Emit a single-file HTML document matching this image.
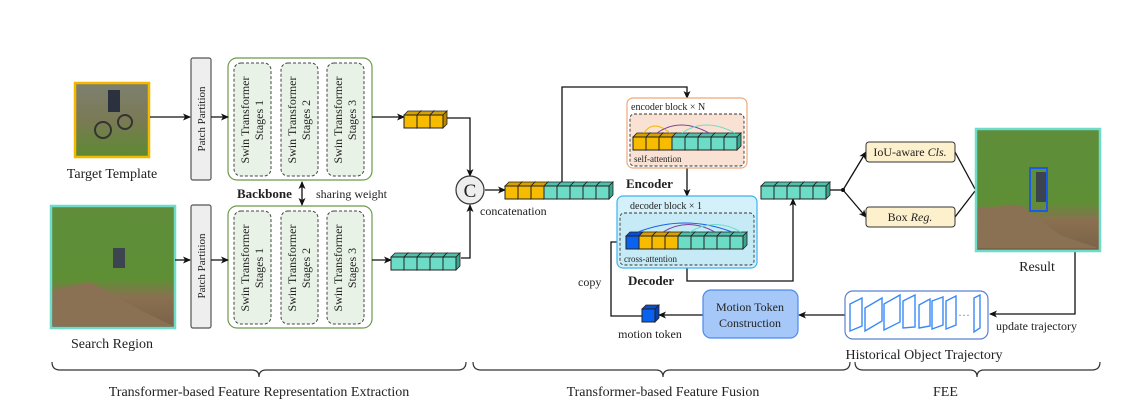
<!DOCTYPE html>
<html><head><meta charset="utf-8"><style>
html,body{margin:0;padding:0;background:#fff}
svg{display:block}
text{font-family:"Liberation Serif",serif;fill:#222}
</style></head><body>
<svg width="1125" height="417" viewBox="0 0 1125 417" xmlns="http://www.w3.org/2000/svg">
<defs>
<marker id="ar" markerWidth="8" markerHeight="8" refX="7" refY="4" orient="auto-start-reverse" markerUnits="userSpaceOnUse"><path d="M0,0.5 L8,4 L0,7.5 L2,4 Z" fill="#111"/></marker>
<g id="cy"><polygon points="0,4 4,0 17,0 13,4" fill="#d9a000" stroke="#222" stroke-width="0.8"/><polygon points="13,4 17,0 17,13 13,17" fill="#b88800" stroke="#222" stroke-width="0.8"/><rect x="0" y="4" width="13" height="13" fill="#f7bb00" stroke="#222" stroke-width="1"/></g>
<g id="ct"><polygon points="0,4 4,0 17,0 13,4" fill="#4fc0aa" stroke="#222" stroke-width="0.8"/><polygon points="13,4 17,0 17,13 13,17" fill="#3aa690" stroke="#222" stroke-width="0.8"/><rect x="0" y="4" width="13" height="13" fill="#6ddcc6" stroke="#222" stroke-width="1"/></g>
<g id="cb"><polygon points="0,4 4,0 17,0 13,4" fill="#0a4fd0" stroke="#222" stroke-width="0.8"/><polygon points="13,4 17,0 17,13 13,17" fill="#0840b0" stroke="#222" stroke-width="0.8"/><rect x="0" y="4" width="13" height="13" fill="#0a62f0" stroke="#222" stroke-width="1"/></g>
<linearGradient id="g1" x1="0" y1="0" x2="0" y2="1"><stop offset="0" stop-color="#7d8070"/><stop offset="0.5" stop-color="#7a7a55"/><stop offset="1" stop-color="#5c8a30"/></linearGradient>
<linearGradient id="g2" x1="0" y1="0" x2="0" y2="1"><stop offset="0" stop-color="#5f8d3a"/><stop offset="0.6" stop-color="#5e8f35"/><stop offset="0.75" stop-color="#8a7050"/><stop offset="1" stop-color="#7a6248"/></linearGradient>
</defs>

<rect x="75" y="83" width="74" height="74" fill="url(#g1)" stroke="#f5b800" stroke-width="2.5"/>
<circle cx="103" cy="130" r="8" fill="none" stroke="#333" stroke-width="2"/><circle cx="125" cy="122" r="7" fill="none" stroke="#333" stroke-width="2"/>
<rect x="108" y="90" width="12" height="22" fill="#2c3140"/>
<text x="112" y="178" font-size="14" text-anchor="middle">Target Template</text>

<rect x="51" y="206" width="124" height="122" fill="url(#g2)" stroke="#6ddcc8" stroke-width="2.5"/>
<polygon points="53,290 90,282 140,310 173,326 53,326" fill="#8b7153"/>
<rect x="113" y="248" width="12" height="20" fill="#3c4450"/>
<text x="112" y="348" font-size="14" text-anchor="middle">Search Region</text>

<rect x="191" y="58" width="20" height="122" rx="2" fill="#eee" stroke="#555" stroke-width="1.2"/>
<text transform="translate(205,119) rotate(-90)" font-size="11" text-anchor="middle">Patch Partition</text>
<rect x="191" y="205" width="20" height="123" rx="2" fill="#eee" stroke="#555" stroke-width="1.2"/>
<text transform="translate(205,266) rotate(-90)" font-size="11" text-anchor="middle">Patch Partition</text>

<rect x="228" y="58" width="144" height="122" rx="9" fill="#fff" stroke="#6a9a4a" stroke-width="1.2"/>
<rect x="228" y="206" width="144" height="122" rx="9" fill="#fff" stroke="#6a9a4a" stroke-width="1.2"/>
<g fill="#e9f2e6" stroke="#444" stroke-width="1" stroke-dasharray="3,2">
<rect x="234" y="63" width="37" height="113" rx="7"/><rect x="281" y="63" width="37" height="113" rx="7"/><rect x="327" y="63" width="37" height="113" rx="7"/>
<rect x="234" y="211" width="37" height="113" rx="7"/><rect x="281" y="211" width="37" height="113" rx="7"/><rect x="327" y="211" width="37" height="113" rx="7"/>
</g>
<g font-size="12" text-anchor="middle">
<text transform="translate(249,120) rotate(-90)">Swin Transformer</text><text transform="translate(263,120) rotate(-90)">Stages 1</text>
<text transform="translate(296,120) rotate(-90)">Swin Transformer</text><text transform="translate(310,120) rotate(-90)">Stages 2</text>
<text transform="translate(342,120) rotate(-90)">Swin Transformer</text><text transform="translate(356,120) rotate(-90)">Stages 3</text>
<text transform="translate(249,268) rotate(-90)">Swin Transformer</text><text transform="translate(263,268) rotate(-90)">Stages 1</text>
<text transform="translate(296,268) rotate(-90)">Swin Transformer</text><text transform="translate(310,268) rotate(-90)">Stages 2</text>
<text transform="translate(342,268) rotate(-90)">Swin Transformer</text><text transform="translate(356,268) rotate(-90)">Stages 3</text>
</g>
<text x="237" y="198" font-size="13" font-weight="bold">Backbone</text>
<text x="316" y="198" font-size="12">sharing weight</text>
<line x1="302" y1="182" x2="302" y2="205" stroke="#111" stroke-width="1.3" marker-end="url(#ar)" marker-start="url(#ar)"/>

<g stroke="#111" stroke-width="1.3" fill="none">
<line x1="150" y1="117" x2="190" y2="117" marker-end="url(#ar)"/>
<line x1="211" y1="117" x2="228" y2="117" marker-end="url(#ar)"/>
<line x1="372" y1="117" x2="404" y2="117" marker-end="url(#ar)"/>
<line x1="175" y1="260" x2="190" y2="260" marker-end="url(#ar)"/>
<line x1="211" y1="260" x2="228" y2="260" marker-end="url(#ar)"/>
<line x1="372" y1="260" x2="391" y2="260" marker-end="url(#ar)"/>
<polyline points="446,118 470,118 470,176" marker-end="url(#ar)"/>
<polyline points="461,258 470,258 470,205" marker-end="url(#ar)"/>
<line x1="485" y1="190" x2="505" y2="190" marker-end="url(#ar)"/>
<polyline points="562,182 562,87 687,87 687,98" marker-end="url(#ar)"/>
<line x1="687" y1="168" x2="687" y2="196" marker-end="url(#ar)"/>
<polyline points="687,268 687,281 793,281 793,199" marker-end="url(#ar)"/>
<line x1="830" y1="190" x2="843" y2="190"/>
<line x1="843" y1="190" x2="866" y2="152" marker-end="url(#ar)"/>
<line x1="843" y1="190" x2="866" y2="217" marker-end="url(#ar)"/>
<line x1="955" y1="152" x2="975" y2="189"/>
<line x1="955" y1="217" x2="975" y2="191"/>
<polyline points="1047,189 1075,189 1075,314 990,314" marker-end="url(#ar)"/>
<line x1="845" y1="315" x2="799" y2="315" marker-end="url(#ar)"/>
<line x1="703" y1="315" x2="659" y2="315" marker-end="url(#ar)"/>
<polyline points="642,316 611,316 611,242 626,242" marker-end="url(#ar)"/>
</g>
<circle cx="843" cy="190" r="2" fill="#111"/>

<use href="#cy" x="404" y="111"/><use href="#cy" x="417" y="111"/><use href="#cy" x="430" y="111"/>
<use href="#ct" x="391" y="253"/><use href="#ct" x="404" y="253"/><use href="#ct" x="417" y="253"/><use href="#ct" x="430" y="253"/><use href="#ct" x="443" y="253"/>

<circle cx="470" cy="190" r="14" fill="#eee" stroke="#333" stroke-width="1.2"/>
<text x="470" y="197" font-size="19" text-anchor="middle">C</text>
<text x="480" y="215" font-size="12">concatenation</text>

<use href="#cy" x="505" y="182"/><use href="#cy" x="518" y="182"/><use href="#cy" x="531" y="182"/>
<use href="#ct" x="544" y="182"/><use href="#ct" x="557" y="182"/><use href="#ct" x="570" y="182"/><use href="#ct" x="583" y="182"/><use href="#ct" x="596" y="182"/>

<rect x="627" y="98" width="120" height="70" rx="6" fill="#fff" stroke="#f0a878" stroke-width="1.2"/>
<text x="631" y="110" font-size="10">encoder block × N</text>
<rect x="630" y="114" width="114" height="52" rx="4" fill="#f9e2d3" stroke="#333" stroke-width="0.9" stroke-dasharray="3,2"/>
<use href="#cy" x="633" y="133"/><use href="#cy" x="646" y="133"/><use href="#cy" x="659" y="133"/>
<use href="#ct" x="672" y="133"/><use href="#ct" x="685" y="133"/><use href="#ct" x="698" y="133"/><use href="#ct" x="711" y="133"/><use href="#ct" x="724" y="133"/>
<g fill="none" stroke-width="1">
<path d="M644,133 Q653,119 670,133" stroke="#f5b800"/>
<path d="M657,133 Q680,117 709,133" stroke="#7a3ea0"/>
<path d="M682,133 Q705,117 735,133" stroke="#6ddcc6"/>
</g>
<text x="634" y="162" font-size="9">self-attention</text>
<text x="626" y="188" font-size="13" font-weight="bold">Encoder</text>

<rect x="617" y="196" width="140" height="72" rx="6" fill="#d4f0fa" stroke="#3ab4ee" stroke-width="1.2"/>
<text x="630" y="209" font-size="10">decoder block × 1</text>
<rect x="620" y="213" width="134" height="52" rx="4" fill="#c6ebf6" stroke="#333" stroke-width="0.9" stroke-dasharray="3,2"/>
<use href="#cb" x="626" y="232"/><use href="#cy" x="639" y="232"/><use href="#cy" x="652" y="232"/><use href="#cy" x="665" y="232"/>
<use href="#ct" x="678" y="232"/><use href="#ct" x="691" y="232"/><use href="#ct" x="704" y="232"/><use href="#ct" x="717" y="232"/><use href="#ct" x="730" y="232"/>
<g fill="none" stroke-width="1">
<path d="M638,232 Q685,214 732,232" stroke="#1a60e0"/>
<path d="M663,232 Q688,217 715,232" stroke="#7a3ea0"/>
<path d="M690,232 Q715,217 741,232" stroke="#6ddcc6"/>
</g>
<text x="624" y="262" font-size="9">cross-attention</text>
<text x="628" y="285" font-size="13" font-weight="bold">Decoder</text>

<use href="#ct" x="761" y="182"/><use href="#ct" x="774" y="182"/><use href="#ct" x="787" y="182"/><use href="#ct" x="800" y="182"/><use href="#ct" x="813" y="182"/>

<rect x="866" y="142" width="89" height="20" rx="3" fill="#fdf0cc" stroke="#333" stroke-width="1"/>
<text x="910" y="156" font-size="12" text-anchor="middle">IoU-aware <tspan font-style="italic">Cls.</tspan></text>
<rect x="866" y="207" width="89" height="20" rx="3" fill="#fdf0cc" stroke="#333" stroke-width="1"/>
<text x="910" y="221" font-size="12" text-anchor="middle">Box <tspan font-style="italic">Reg.</tspan></text>

<rect x="976" y="129" width="124" height="122" fill="url(#g2)" stroke="#6ddcc8" stroke-width="2.5"/>
<polygon points="978,208 1020,205 1060,235 1098,248 978,248" fill="#8b7153"/>
<rect x="1036" y="172" width="10" height="30" fill="#3c4450"/>
<rect x="1030" y="168" width="17" height="43" fill="none" stroke="#1a5ae8" stroke-width="2"/>
<text x="1037" y="271" font-size="14" text-anchor="middle">Result</text>
<text x="996" y="330" font-size="12">update trajectory</text>

<rect x="845" y="291" width="143" height="48" rx="8" fill="#fff" stroke="#5a80d0" stroke-width="1.2"/>
<g fill="none" stroke="#3a8af5" stroke-width="1.4">
<polygon points="850,304 862,298 862,326 850,331"/>
<polygon points="865,308 882,298 882,321 865,331"/>
<polygon points="884,304 900,295 900,322 884,330"/>
<polygon points="903,301 915,295 915,327 903,328"/>
<polygon points="919,305 930,299 930,326 919,328"/>
<polygon points="932,301 943,297 943,325 932,329"/>
<polygon points="946,301 956,296 956,325 946,329"/>
<polygon points="974,298 980,295 980,328 974,332"/>
</g>
<text x="958" y="319" font-size="12" style="fill:#3a8af5">···</text>
<text x="924" y="359" font-size="14" text-anchor="middle">Historical Object Trajectory</text>

<rect x="703" y="290" width="95" height="48" rx="8" fill="#a6c8f8" stroke="#4a8af0" stroke-width="1.2"/>
<text x="750" y="311" font-size="12" text-anchor="middle">Motion Token</text>
<text x="750" y="327" font-size="12" text-anchor="middle">Construction</text>
<use href="#cb" x="642" y="305"/>
<text x="650" y="338" font-size="12" text-anchor="middle">motion token</text>
<text x="578" y="286" font-size="12">copy</text>

<g fill="none" stroke="#333" stroke-width="1.2">
<path d="M52,362 Q52,370 60,370 L252,370 Q259,370 259,377 Q259,370 266,370 L458,370 Q466,370 466,362"/>
<path d="M473,362 Q473,370 481,370 L656,370 Q663,370 663,377 Q663,370 670,370 L842,370 Q850,370 850,362"/>
<path d="M855,362 Q855,370 863,370 L970,370 Q977,370 977,377 Q977,370 984,370 L1092,370 Q1100,370 1100,362"/>
</g>
<text x="259" y="396" font-size="14" text-anchor="middle">Transformer-based Feature Representation Extraction</text>
<text x="663" y="396" font-size="14" text-anchor="middle">Transformer-based Feature Fusion</text>
<text x="933" y="396" font-size="14">FEE</text>
</svg>
</body></html>
